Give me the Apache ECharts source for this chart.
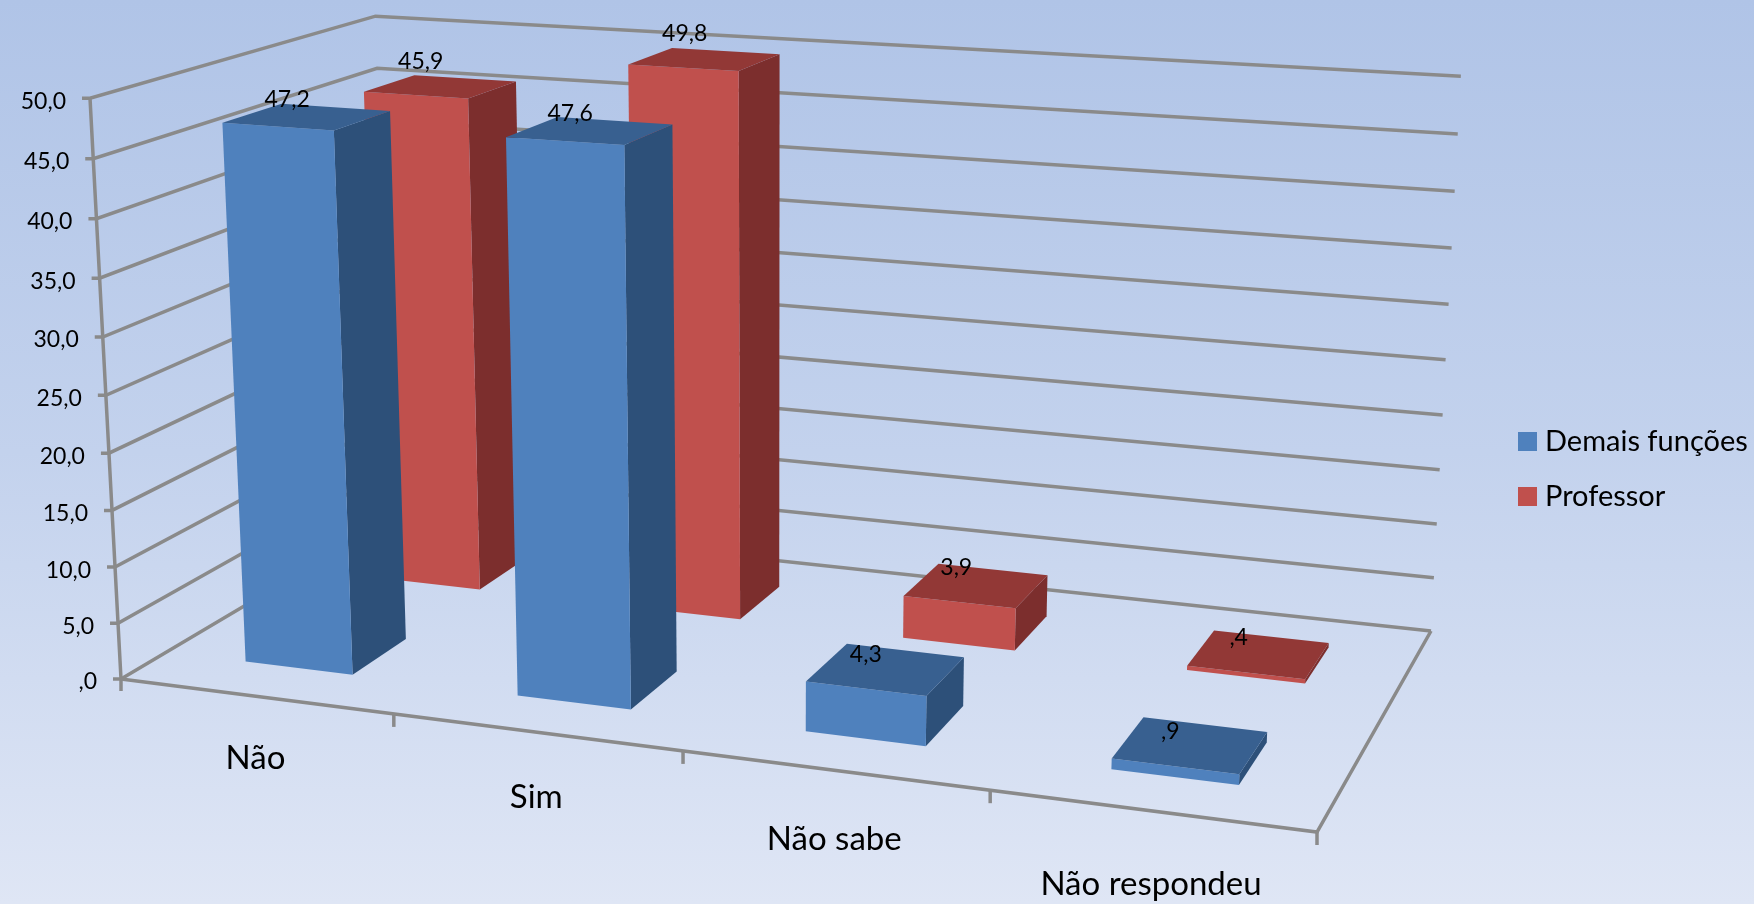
<!DOCTYPE html>
<html>
<head>
<meta charset="utf-8">
<style>
  html, body { margin: 0; padding: 0; }
  #chart { width: 1754px; height: 904px; }
</style>
</head>
<body>
<div id="chart"></div>
<script src="https://cdn.jsdelivr.net/npm/echarts@6/dist/echarts.min.js"></script>
<script>
var categories = ['Não', 'Sim', 'Não sabe', 'Não respondeu']
var demaisFuncoes = [47.2, 47.6, 4.3, 0.9]
var professor = [45.9, 49.8, 3.9, 0.4]
var valueTicks = [0, 5, 10, 15, 20, 25, 30, 35, 40, 45, 50]
var valueTickLabels = [',0', '5,0', '10,0', '15,0', '20,0', '25,0', '30,0', '35,0', '40,0', '45,0', '50,0']

var gridColor = '#8a8a8a'
var fontName = 'Lato'
var blue = { front: '#4f81bd', side: '#2d5079', top: '#386090', labelBase: 14, labelLift: 3 }
var red = { front: '#c0504d', side: '#7c2e2d', top: '#923836', labelBase: 17, labelLift: 9 }

// the perspective of the box: floor corners on screen and where verticals meet
var floorFL = [121, 679]
var floorFR = [1317, 832]
var floorBR = [1431, 631]
var floorBL = [391, 519]
var verticalVP = [772, 12876]
var wallTopFL = [90, 99]

var sx = floorFL[0] - floorFR[0] + floorBR[0] - floorBL[0]
var sy = floorFL[1] - floorFR[1] + floorBR[1] - floorBL[1]
var dx1 = floorFR[0] - floorBR[0]
var dx2 = floorBL[0] - floorBR[0]
var dy1 = floorFR[1] - floorBR[1]
var dy2 = floorBL[1] - floorBR[1]
var den = dx1 * dy2 - dx2 * dy1
var g = (sx * dy2 - dx2 * sy) / den
var h = (dx1 * sy - sx * dy1) / den
var a = floorFR[0] - floorFL[0] + g * floorFR[0]
var b = floorBL[0] - floorFL[0] + h * floorBL[0]
var d = floorFR[1] - floorFL[1] + g * floorFR[1]
var e = floorBL[1] - floorFL[1] + h * floorBL[1]
var vs = (wallTopFL[0] - floorFL[0]) / (verticalVP[0] - wallTopFL[0])

function project(u, v, w) {
  var q = g * u + h * v + 1 + w * vs
  return [
    (a * u + b * v + floorFL[0] + w * vs * verticalVP[0]) / q,
    (d * u + e * v + floorFL[1] + w * vs * verticalVP[1]) / q
  ]
}

function line(points, width) {
  return {
    type: 'polyline',
    shape: { points: points },
    style: { stroke: gridColor, lineWidth: width || 3.5, fill: null }
  }
}

function label(text, x, y, size, align) {
  return {
    type: 'text',
    style: {
      text: text,
      x: x,
      y: y,
      fill: '#000',
      font: size + 'px ' + fontName,
      align: align || 'center',
      verticalAlign: 'middle'
    }
  }
}

function fmt(val) {
  return val.toFixed(1).replace('.', ',').replace(/^0/, '')
}

// hidden axes give the scale, project() puts the result in the box
function toU(pt, rect) { return (pt[0] - rect.x) / rect.width }
function toW(pt, rect) { return (rect.y + rect.height - pt[1]) / rect.height }

function renderWall(params, api) {
  var rect = params.coordSys
  var i = params.dataIndex
  var w = toW(api.coord([0, api.value(1)]), rect)
  var front = project(0, 0, w)
  var children = [
    line([[front[0] - 8, front[1]], front, project(0, 1, w), project(1, 1, w)])
  ]
  children.push(label(valueTickLabels[i], front[0] - 24, front[1] + 3, 23, 'right'))
  return { type: 'group', children: children }
}

function renderFrame(params, api) {
  var rect = params.coordSys
  var i = params.dataIndex
  var centre = api.coord([i, 0])
  var bw = api.size([1, 0])[0] / rect.width
  var u = toU(centre, rect)
  var end = project(u + bw / 2, 0, 0)
  var mid = project(u, 0, 0)
  var children = [
    line([[end[0], end[1]], [end[0], end[1] + 13]]),
    label(categories[i], mid[0], mid[1] + 60 + 15 * u, 33)
  ]
  if (i === 0) {
    var bottom = project(0, 0, 0)
    children.push(line([project(0, 0, 1), bottom, [bottom[0], bottom[1] + 12]]))
    children.push(line([bottom, project(1, 0, 0), project(1, 1, 0)]))
  }
  return { type: 'group', children: children }
}

function makeBarRender(depth, colors) {
  return function (params, api) {
    var rect = params.coordSys
    var val = api.value(1)
    var pt = api.coord([api.value(0), val])
    var bw = api.size([1, 0])[0] / rect.width
    var u = toU(pt, rect)
    var w = toW(pt, rect)
    var u0 = u - bw * 0.2
    var u1 = u + bw * 0.2
    var v0 = depth - 0.1
    var v1 = depth + 0.1
    var topCentre = project(u, depth, w)
    return {
      type: 'group',
      children: [
        { type: 'polygon', shape: { points: [project(u1, v0, 0), project(u1, v1, 0), project(u1, v1, w), project(u1, v0, w)] }, style: { fill: colors.side } },
        { type: 'polygon', shape: { points: [project(u0, v0, 0), project(u1, v0, 0), project(u1, v0, w), project(u0, v0, w)] }, style: { fill: colors.front } },
        { type: 'polygon', shape: { points: [project(u0, v0, w), project(u1, v0, w), project(u1, v1, w), project(u0, v1, w)] }, style: { fill: colors.top } },
        label(fmt(val), topCentre[0] - 20, topCentre[1] - colors.labelBase - colors.labelLift * w, 23)
      ]
    }
  }
}

function pairs(values) {
  return values.map(function (val, i) { return [i, val] })
}

var chart = echarts.init(document.getElementById('chart'))
chart.setOption({
  animation: false,
  backgroundColor: new echarts.graphic.LinearGradient(0, 0, 0, 1, [
    { offset: 0, color: '#b0c4e7' },
    { offset: 0.5, color: '#c3d2ed' },
    { offset: 1, color: '#dfe6f5' }
  ]),
  grid: { left: 0, right: 0, top: 0, bottom: 0 },
  xAxis: { type: 'category', data: categories, show: false },
  yAxis: { type: 'value', min: 0, max: 50, interval: 5, show: false },
  legend: {
    data: ['Demais funções', 'Professor'],
    orient: 'vertical',
    left: 1513,
    top: 422,
    icon: 'rect',
    itemWidth: 19,
    itemHeight: 19,
    itemGap: 26,
    selectedMode: false,
    textStyle: { color: '#000', fontFamily: fontName, fontSize: 29, padding: [0, 0, 0, 3] }
  },
  series: [
    {
      type: 'custom',
      z: 1,
      silent: true,
      renderItem: renderWall,
      data: valueTicks.map(function (t) { return [0, t] }),
      encode: { x: 0, y: 1 }
    },
    {
      type: 'custom',
      z: 1,
      silent: true,
      renderItem: renderFrame,
      data: pairs([0, 0, 0, 0]),
      encode: { x: 0, y: 1 }
    },
    {
      name: 'Professor',
      type: 'custom',
      z: 2,
      silent: true,
      itemStyle: { color: red.front },
      renderItem: makeBarRender(0.75, red),
      data: pairs(professor),
      encode: { x: 0, y: 1 }
    },
    {
      name: 'Demais funções',
      type: 'custom',
      z: 3,
      silent: true,
      itemStyle: { color: blue.front },
      renderItem: makeBarRender(0.25, blue),
      data: pairs(demaisFuncoes),
      encode: { x: 0, y: 1 }
    }
  ]
})
</script>
</body>
</html>
